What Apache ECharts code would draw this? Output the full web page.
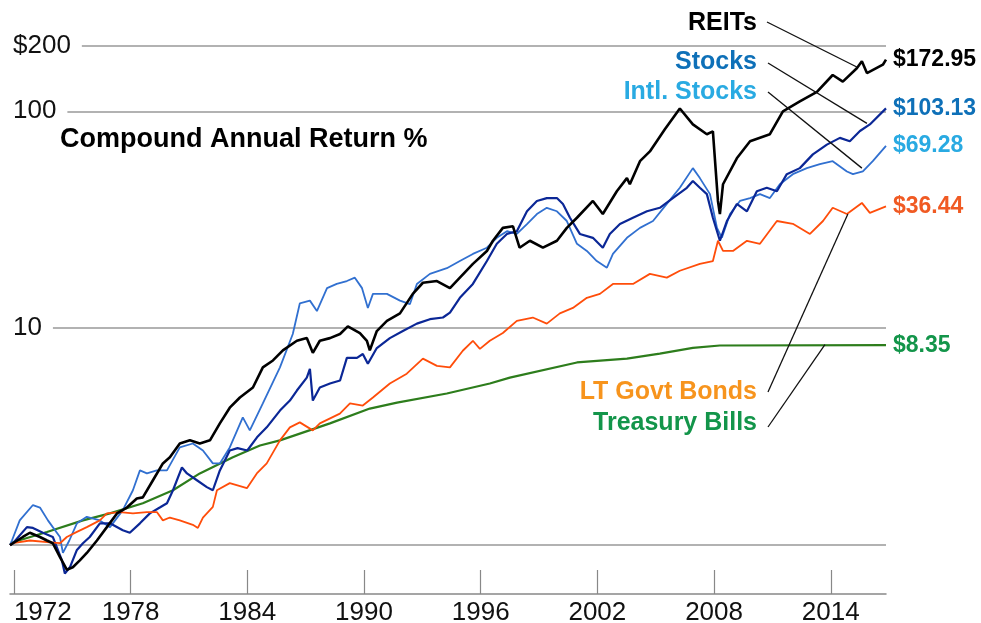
<!DOCTYPE html>
<html>
<head>
<meta charset="utf-8">
<script src="https://cdn.jsdelivr.net/npm/echarts@6/dist/echarts.min.js"></script>
<style>
  html, body { margin: 0; padding: 0; background: #fff; }
  #chart { width: 981px; height: 623px; }
</style>
</head>
<body>
<div id="chart"></div>
<script>
// growth of $1 as [year, value]
var reits = [[1971.8,1],[1971.95,1.02],[1972.46,1.09],[1972.82,1.14],[1973.34,1.09],[1973.7,1.05],[1974,1.02],[1974.37,0.88],[1974.72,0.77],[1975.03,0.79],[1975.39,0.85],[1975.75,0.92],[1976.27,1.05],[1976.78,1.21],[1977.3,1.4],[1977.81,1.49],[1978.32,1.64],[1978.63,1.66],[1979.15,1.99],[1979.66,2.38],[1980.02,2.54],[1980.53,2.94],[1981.05,3.04],[1981.56,2.94],[1982.08,3.04],[1982.59,3.64],[1983.1,4.3],[1983.62,4.79],[1984.29,5.33],[1984.8,6.6],[1985.32,7.1],[1985.83,7.9],[1986.55,8.75],[1987.06,9.0],[1987.37,7.7],[1987.73,8.75],[1988.25,9.0],[1988.77,9.4],[1989.17,10.2],[1989.79,9.5],[1990.15,8.75],[1990.3,7.9],[1990.66,9.7],[1991.18,10.8],[1991.85,11.7],[1992.51,14.4],[1993.03,16.2],[1993.75,16.5],[1994.42,15.3],[1994.93,17.1],[1995.6,19.8],[1996.32,22.7],[1996.63,25.3],[1997.14,29.0],[1997.66,29.5],[1998,23.5],[1998.53,25.3],[1999.2,23.5],[1999.92,25.3],[2000.43,29.0],[2000.95,32.3],[2001.77,38.6],[2002.28,33.6],[2003,42.8],[2003.52,49.2],[2003.67,46.1],[2004.19,58.9],[2004.7,65.3],[2005.47,82.6],[2006.24,103],[2006.91,87],[2007.63,78.4],[2007.94,80.8],[2008.2,38.6],[2008.3,33.6],[2008.46,46.1],[2009.17,60.7],[2009.85,72.8],[2010.87,78.4],[2011.54,100],[2012.41,111],[2013.29,123],[2014.1,147],[2014.62,137],[2015.34,158],[2015.6,170],[2015.86,150],[2016.68,164],[2016.84,172.95]];

var stocks = [[1971.8,1],[1971.95,1.02],[1972.67,1.21],[1972.98,1.2],[1973.49,1.14],[1974,1.09],[1974.47,0.85],[1974.62,0.74],[1974.88,0.79],[1975.24,0.95],[1975.55,1.02],[1975.9,1.09],[1976.42,1.26],[1976.94,1.26],[1977.6,1.17],[1977.96,1.14],[1978.48,1.26],[1978.99,1.4],[1979.5,1.49],[1979.87,1.56],[1980.18,1.79],[1980.64,2.28],[1980.9,2.14],[1981.41,1.99],[1981.92,1.85],[1982.23,1.79],[1982.59,2.21],[1983.1,2.73],[1983.5,2.8],[1984,2.73],[1984.5,3.14],[1985,3.49],[1985.68,4.17],[1986.19,4.64],[1986.55,5.16],[1987.06,5.92],[1987.22,6.5],[1987.37,4.64],[1987.73,5.33],[1988.25,5.56],[1988.77,5.74],[1989.12,7.3],[1989.64,7.3],[1989.94,7.6],[1990.2,6.85],[1990.66,8.1],[1991.33,9.0],[1992,9.7],[1992.72,10.5],[1993.39,11.0],[1994.06,11.2],[1994.42,11.8],[1994.93,13.8],[1995.6,16.0],[1996.32,20.4],[1996.83,24.5],[1997.35,27.2],[1997.86,28.0],[1998.38,34.6],[1998.89,38.6],[1999.4,39.8],[1999.92,39.8],[2000.23,37.4],[2000.59,32.3],[2001.1,27.2],[2001.77,26.1],[2002.28,23.5],[2002.64,27.2],[2003.16,30.2],[2003.83,32.3],[2004.55,34.6],[2005.21,35.9],[2005.88,39.8],[2006.6,44.4],[2006.91,47.7],[2007.27,44.4],[2007.63,41.5],[2007.94,32.3],[2008.3,25.3],[2008.66,31.2],[2009.17,37.4],[2009.69,34.6],[2010.2,42.8],[2010.71,44.4],[2011.23,42.8],[2011.74,51.3],[2012.41,54.7],[2013.08,63.3],[2013.8,70.2],[2014.47,75.4],[2014.98,72.8],[2015.5,81.1],[2016.01,87],[2016.84,103.13]];

var intlStocks = [[1971.8,1],[1971.9,1.05],[1972.3,1.3],[1972.98,1.53],[1973.34,1.49],[1973.75,1.3],[1974,1.21],[1974.37,1.09],[1974.52,0.92],[1974.85,1.05],[1975.24,1.26],[1975.75,1.35],[1976.42,1.3],[1976.94,1.21],[1977.6,1.45],[1978.12,1.79],[1978.48,2.21],[1978.84,2.14],[1979.35,2.21],[1979.87,2.21],[1980.53,2.82],[1981.2,2.94],[1981.72,2.73],[1982.23,2.38],[1982.59,2.38],[1983.1,2.82],[1983.77,3.88],[1984.13,3.38],[1984.8,4.5],[1985.68,6.6],[1986.34,9.4],[1986.7,13.0],[1987.22,13.4],[1987.58,12.0],[1988.1,15.3],[1988.6,16.0],[1989.12,16.5],[1989.53,17.1],[1989.9,15.3],[1990.2,12.4],[1990.46,14.4],[1991.18,14.4],[1991.85,13.4],[1992.36,12.9],[1992.72,16.0],[1993.39,17.8],[1994.26,18.9],[1994.93,20.4],[1995.6,22.0],[1996.32,23.5],[1996.83,26.1],[1997.35,28.0],[1997.86,27.2],[1998.38,30.2],[1998.89,33.6],[1999.4,35.9],[1999.92,34.6],[2000.43,31.2],[2000.95,24.5],[2001.46,22.7],[2001.97,20.4],[2002.49,19.0],[2002.8,22.0],[2003.52,26.1],[2004.19,29.0],[2004.86,31.2],[2005.57,37.4],[2006.24,44.4],[2006.91,54.7],[2007.27,49.2],[2007.79,41.5],[2008.15,29.0],[2008.4,26.1],[2008.82,33.6],[2009.33,38.6],[2009.85,39.8],[2010.36,41.5],[2010.87,39.8],[2011.38,46.1],[2012.05,51.3],[2012.77,54.7],[2013.44,57.1],[2014.1,58.9],[2014.83,52.8],[2015.14,51.3],[2015.65,52.8],[2016.16,58.9],[2016.84,69.28]];

var govtBonds = [[1971.8,1],[1971.95,1.02],[1972.82,1.05],[1973.85,1.03],[1974.37,1.02],[1974.72,1.09],[1975.24,1.15],[1975.75,1.21],[1976.42,1.3],[1976.78,1.4],[1977.45,1.42],[1978.12,1.4],[1978.84,1.42],[1979.35,1.42],[1979.66,1.3],[1980.02,1.34],[1980.53,1.3],[1981.2,1.24],[1981.46,1.2],[1981.72,1.34],[1982.23,1.5],[1982.44,1.79],[1983.1,1.93],[1983.98,1.83],[1984.49,2.14],[1985,2.38],[1985.68,3.04],[1986.19,3.49],[1986.7,3.68],[1987.37,3.38],[1987.73,3.64],[1988.76,4.04],[1989.28,4.5],[1989.94,4.4],[1990.46,4.79],[1991.33,5.56],[1992.2,6.17],[1993.03,7.24],[1993.75,6.7],[1994.42,6.6],[1995.08,7.87],[1995.6,8.75],[1995.96,8.03],[1996.47,8.75],[1997.14,9.5],[1997.86,10.8],[1998.68,11.2],[1999.4,10.5],[2000.07,11.7],[2000.74,12.4],[2001.46,13.8],[2002.13,14.4],[2002.8,16.0],[2003.83,16.0],[2004.7,17.8],[2005.57,17.1],[2006.24,18.4],[2007.27,19.8],[2007.94,20.4],[2008.2,25.3],[2008.46,22.7],[2008.97,22.7],[2009.69,25.3],[2010.36,24.5],[2011.23,31.2],[2012.05,30.3],[2012.93,27.2],[2013.6,31.2],[2014.1,35.9],[2014.83,33.6],[2015.6,37.8],[2016.01,34.0],[2016.84,36.44]];

var tBills = [[1971.8,1],[1971.95,1.03],[1973.7,1.15],[1975.55,1.3],[1976.94,1.4],[1978.63,1.56],[1980.18,1.79],[1981.56,2.14],[1983.26,2.54],[1984.65,2.88],[1985.68,3.04],[1988.25,3.64],[1990.3,4.26],[1991.7,4.54],[1994.26,5.0],[1996.47,5.56],[1997.5,5.92],[2000.95,6.95],[2003.52,7.24],[2005.21,7.64],[2006.91,8.12],[2008.3,8.32],[2016.84,8.35]];

var yearTicks = [1972, 1978, 1984, 1990, 1996, 2002, 2008, 2014];

var font = '"Liberation Sans", Arial, sans-serif';

function mkSeries(name, data, color, width, labelColor, leader) {
    return {
        name: name,
        type: 'line',
        data: data,
        showSymbol: false,
        clip: false,
        lineStyle: { color: color, width: width },
        endLabel: {
            show: true,
            distance: 7,
            color: labelColor,
            fontFamily: font,
            fontWeight: 'bold',
            fontSize: 23,
            formatter: function (p) { return '$' + p.value[1].toFixed(2); }
        },
        markLine: {
            silent: true,
            symbol: 'none',
            label: { show: false },
            lineStyle: { color: '#111', width: 1.3, type: 'solid' },
            data: [leader]
        }
    };
}

var chart = echarts.init(document.getElementById('chart'));
chart.setOption({
    animation: false,
    backgroundColor: '#fff',
    grid: { left: 10, right: 95, top: 46, bottom: 29, outerBoundsMode: 'none', containLabel: false },
    xAxis: {
        type: 'value',
        min: 1971.8,
        max: 2016.84,
        axisLine: { show: true, lineStyle: { color: '#888', width: 1.5 } },
        axisTick: { show: true, inside: true, length: 24, customValues: yearTicks, lineStyle: { color: '#888', width: 1.2 } },
        axisLabel: {
            customValues: yearTicks, fontFamily: font, fontSize: 26, color: '#111', margin: 6, alignMinLabel: 'left',
            formatter: function (v) { return String(Math.round(v)); }
        },
        splitLine: { show: false }
    },
    yAxis: {
        type: 'log',
        logBase: 10,
        min: 0.595,
        max: 200,
        axisLine: { show: false },
        axisTick: { show: false },
        splitLine: { show: true, showMinLine: false, lineStyle: { color: '#999', width: 1.5 } },
        axisLabel: {
            inside: true,
            margin: 0,
            showMinLabel: false,
            fontFamily: font,
            fontSize: 26,
            color: '#111',
            formatter: function (v) {
                var r = Math.round(v);
                if (r === 200) return '{a|$200}';
                if (r === 10 || r === 100) return '{a|' + r + '}';
                return '';
            },
            rich: { a: { fontFamily: font, fontSize: 26, color: '#111', backgroundColor: '#fff', padding: [3, 11, 3, 3] } }
        }
    },
    series: [
        mkSeries('Treasury Bills', tBills, '#2d7d1c', 2.2, '#13954a', [{ x: 768, y: 427 }, { coord: [2013.7, 8.4] }]),
        mkSeries('Intl. Stocks', intlStocks, '#3170d0', 1.8, '#29aae2', [{ x: 768, y: 92 }, { coord: [2015.6, 54.7] }]),
        mkSeries('Stocks', stocks, '#0b2796', 2.2, '#0e70b8', [{ x: 768, y: 63 }, { coord: [2015.86, 88] }]),
        mkSeries('LT Govt Bonds', govtBonds, '#ff4d0a', 1.8, '#f05a23', [{ x: 768, y: 392 }, { coord: [2014.88, 33.6] }]),
        mkSeries('REITs', reits, '#000', 2.6, '#000', [{ x: 767, y: 22 }, { coord: [2015.34, 160] }])
    ],
    graphic: [
        { type: 'text', x: 60, y: 140, style: { text: 'Compound Annual Return %', fill: '#000', font: 'bold 27px ' + font, verticalAlign: 'middle' } },
        { type: 'text', x: 757, y: 23, style: { text: 'REITs', fill: '#000', font: 'bold 25px ' + font, align: 'right', verticalAlign: 'middle' } },
        { type: 'text', x: 757, y: 62, style: { text: 'Stocks', fill: '#0e70b8', font: 'bold 25px ' + font, align: 'right', verticalAlign: 'middle' } },
        { type: 'text', x: 757, y: 92, style: { text: 'Intl. Stocks', fill: '#29aae2', font: 'bold 25px ' + font, align: 'right', verticalAlign: 'middle' } },
        { type: 'text', x: 757, y: 392, style: { text: 'LT Govt Bonds', fill: '#f7941d', font: 'bold 25px ' + font, align: 'right', verticalAlign: 'middle' } },
        { type: 'text', x: 757, y: 423, style: { text: 'Treasury Bills', fill: '#13954a', font: 'bold 25px ' + font, align: 'right', verticalAlign: 'middle' } }
    ]
});
</script>
</body>
</html>
